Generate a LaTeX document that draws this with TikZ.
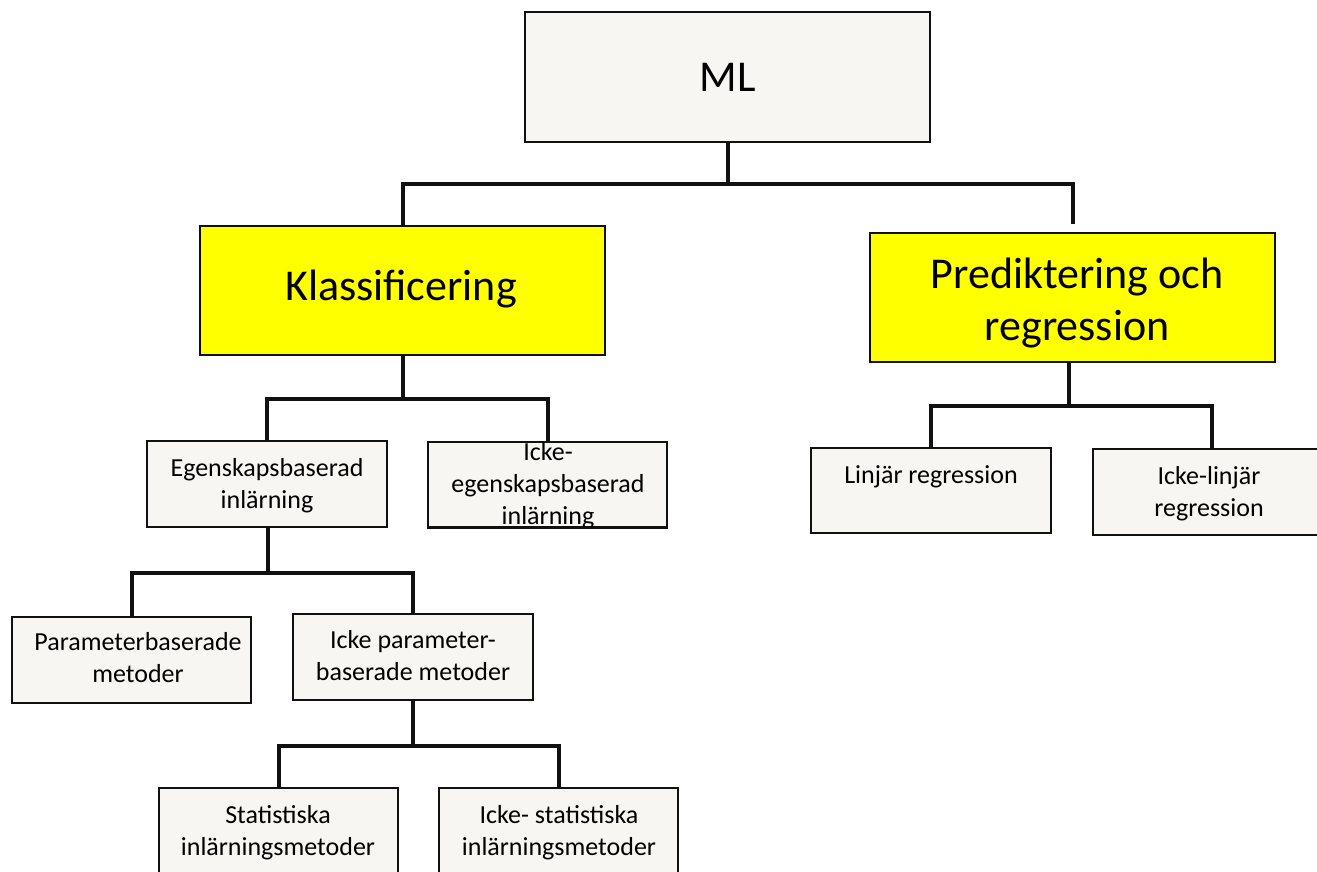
\documentclass[tikz,border=0pt]{standalone}
\usepackage{fontspec}
\setmainfont{Carlito}
\usetikzlibrary{calc}
\definecolor{boxgrey}{HTML}{F7F6F2}
\definecolor{boxyellow}{HTML}{FFFF00}
\definecolor{ink}{HTML}{111111}
\tikzset{
  box/.style={draw=ink, line width=2pt, fill=boxgrey, inner sep=0pt, rectangle},
  keybox/.style={box, fill=boxyellow},
  conn/.style={draw=ink, line width=4pt, line join=miter},
  bigtext/.style={font=\fontsize{44}{52}\selectfont, inner sep=0pt, anchor=base, align=center},
  smalltext/.style={font=\fontsize{26}{32}\selectfont, inner sep=0pt, anchor=base, align=center},
}
% place a box by its corners (x1,y1) -- (x2,y2), y measured downwards
\newcommand{\placebox}[6]{%
  \pgfmathsetmacro{\bw}{#4-#2}\pgfmathsetmacro{\bh}{#5-#3}%
  \node[#6, minimum width=\bw pt, minimum height=\bh pt] (#1) at ({(#2+#4)/2},{(#3+#5)/2}) {};}
\begin{document}
\begin{tikzpicture}[x=1pt,y=-1pt]
\useasboundingbox (0,0) rectangle (1317,872);

% boxes
\placebox{ml}{525}{12}{930}{142}{box}
\placebox{klass}{200}{226}{605}{355}{keybox}
\placebox{pred}{870}{233}{1275}{362}{keybox}
\placebox{egen}{147}{441}{387}{527}{box}
\placebox{ickeegen}{428}{442}{667}{527}{box}
\placebox{linj}{811}{448}{1051}{533}{box}
\placebox{ickelinj}{1093}{449}{1331}{535}{box}
\placebox{param}{12}{617}{251}{703}{box}
\placebox{ickeparam}{293}{614}{533}{700}{box}
\placebox{stat}{159}{788}{398}{900}{box}
\placebox{ickestat}{439}{788}{678}{900}{box}

% labels (multi-line labels sit on the baseline of their last line)
\node[bigtext] (tml) at (728,92) {ML};
\node[bigtext] (tklass) at (401,300) {Klassificering};
\node[bigtext] (tpred) at (1077,340) {Prediktering och\\regression};
\node[smalltext] (tegen) at (267,508) {Egenskapsbaserad\\inlärning};
\begin{scope}
  \clip (ickeegen.south west) rectangle (ickeegen.north east);
  \node[smalltext] (tickeegen) at (548,524) {Icke-\\egenskapsbaserad\\inlärning};
\end{scope}
\draw[draw=ink, line width=2pt] (ickeegen.south west) -- (ickeegen.south east);
\node[smalltext] (tlinj) at (931,483) {Linjär regression};
\node[smalltext] (tickelinj) at (1209,516) {Icke-linjär\\regression};
\node[smalltext] (tparam) at (138,682) {Parameterbaserade\\metoder};
\node[smalltext] (tickeparam) at (413,680) {Icke parameter-\\baserade metoder};
\node[smalltext] (tstat) at (278,855) {Statistiska\\inlärningsmetoder};
\node[smalltext] (tickestat) at (559,855) {Icke- statistiska\\inlärningsmetoder};

% connectors
\draw[conn] (ml.south) -- ++(0,41) coordinate (busml);
\draw[conn] (klass.north) |- (busml) -| ([yshift=8pt]pred.north);

\draw[conn] (klass.south) -- ++(0,43) coordinate (busklass);
\draw[conn] (egen.north) |- (busklass) -| (ickeegen.north);

\draw[conn] ([xshift=-4pt]pred.south) -- ++(0,43) coordinate (buspred);
\draw[conn] (linj.north) |- (buspred) -| (ickelinj.north);

\draw[conn] ([xshift=1pt]egen.south) -- ++(0,45) coordinate (busegen);
\draw[conn] (param.north) |- (busegen) -| (ickeparam.north);

\draw[conn] (ickeparam.south) -- ++(0,45) coordinate (busparam);
\draw[conn] (stat.north) |- (busparam) -| (ickestat.north);
\end{tikzpicture}
\end{document}
